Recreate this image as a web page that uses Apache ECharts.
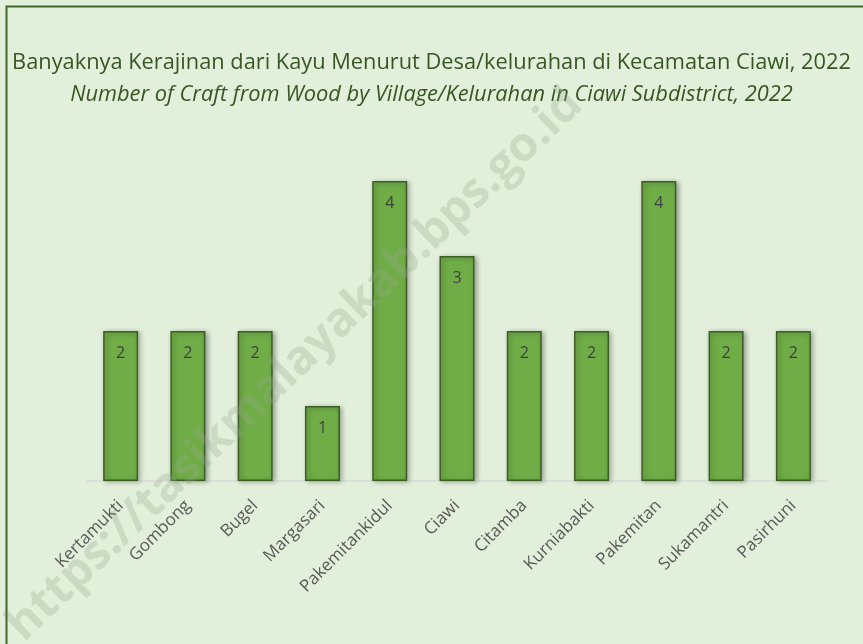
<!DOCTYPE html>
<html>
<head>
<meta charset="utf-8">
<script src="https://cdn.jsdelivr.net/npm/echarts@6/dist/echarts.min.js"></script>
<style>
  html, body { margin: 0; padding: 0; background: #fff; }
  #chart { width: 863px; height: 644px; }
</style>
</head>
<body>
<div id="chart"></div>
<script>
  // data
  const villages = ['Kertamukti', 'Gombong', 'Bugel', 'Margasari', 'Pakemitankidul', 'Ciawi',
    'Citamba', 'Kurniabakti', 'Pakemitan', 'Sukamantri', 'Pasirhuni'];
  const crafts = [2, 2, 2, 1, 4, 3, 2, 2, 4, 2, 2];
  const titleId = 'Banyaknya Kerajinan dari Kayu Menurut Desa/kelurahan di Kecamatan Ciawi, 2022';
  const titleEn = 'Number of Craft from Wood by Village/Kelurahan in Ciawi Subdistrict, 2022';
  const watermark = 'https://tasikmalayakab.bps.go.id';

  const titleFont = "'Open Sans', 'Noto Sans', sans-serif";
  const labelFont = "'Open Sans', 'Noto Sans', sans-serif";

  const myChart = echarts.init(document.getElementById('chart'));
  const option = {
    backgroundColor: '#E2EFDA',
    title: [
      {
        text: titleId,
        left: 'center',
        top: 47,
        textStyle: { fontFamily: titleFont, fontSize: 21.8, fontWeight: 'normal', color: '#375623' }
      },
      {
        text: titleEn,
        left: 'center',
        top: 79,
        textStyle: { fontFamily: titleFont, fontSize: 21.8, fontWeight: 'normal', fontStyle: 'italic', color: '#375623' }
      }
    ],
    grid: { left: 87, right: 36, top: 181, bottom: 163 },
    xAxis: {
      type: 'category',
      data: villages,
      axisTick: { show: false },
      axisLine: { lineStyle: { color: '#D9D9D9', width: 1.5 } },
      axisLabel: {
        rotate: 45,
        interval: 0,
        margin: 22,
        fontFamily: labelFont,
        fontSize: 17,
        color: '#595959'
      }
    },
    yAxis: {
      type: 'value',
      min: 0,
      max: 4,
      show: false
    },
    series: [{
      type: 'bar',
      data: crafts,
      barWidth: '52%',
      itemStyle: {
        color: '#70AD47',
        borderColor: '#3B5E25',
        borderWidth: 1.5,
        shadowColor: 'rgba(0,0,0,0.35)',
        shadowBlur: 5,
        shadowOffsetX: 2,
        shadowOffsetY: 1
      },
      label: {
        show: true,
        position: 'insideTop',
        distance: 14,
        fontFamily: labelFont,
        fontSize: 16,
        color: '#404040'
      }
    }],
    graphic: [
      {
        type: 'rect',
        left: 4,
        top: 4,
        z: 100,
        silent: true,
        shape: { width: 858, height: 660 },
        style: { fill: 'none', stroke: '#426B2B', lineWidth: 2 }
      },
      {
        type: 'text',
        x: 295,
        y: 365,
        rotation: Math.PI * 43.7 / 180,
        z: 50,
        silent: true,
        style: {
          text: watermark,
          fontFamily: labelFont,
          fontWeight: 'bold',
          fontSize: 47,
          fill: 'rgba(150,170,140,0.3)',
          align: 'center',
          verticalAlign: 'middle'
        }
      }
    ]
  };
  myChart.setOption(option);
</script>
</body>
</html>
